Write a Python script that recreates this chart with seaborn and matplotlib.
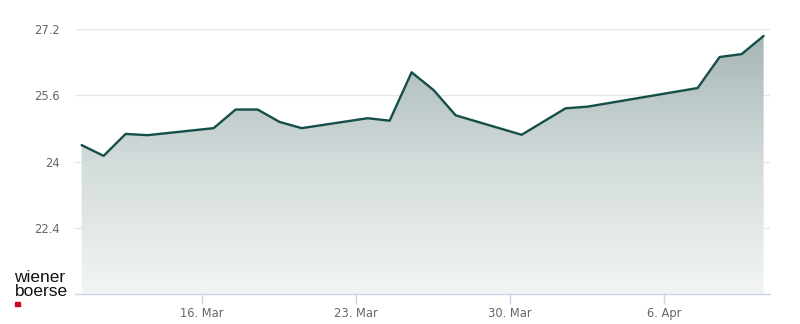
import numpy as np
import pandas as pd
import matplotlib
matplotlib.use("Agg")
import matplotlib.pyplot as plt
import matplotlib.dates as mdates
from matplotlib.colors import LinearSegmentedColormap
import seaborn as sns

# ---- data ----
dates = ["2026-03-10", "2026-03-11", "2026-03-12", "2026-03-13",
         "2026-03-16", "2026-03-17", "2026-03-18", "2026-03-19", "2026-03-20",
         "2026-03-23", "2026-03-24", "2026-03-25", "2026-03-26", "2026-03-27",
         "2026-03-30", "2026-03-31", "2026-04-01", "2026-04-02",
         "2026-04-07", "2026-04-08", "2026-04-09", "2026-04-10"]
prices = [24.40, 24.14, 24.67, 24.64,
          24.81, 25.26, 25.26, 24.96, 24.81,
          25.05, 24.99, 26.16, 25.73, 25.12,
          24.65, 24.97, 25.29, 25.33,
          25.78, 26.53, 26.60, 27.04]
y_ticks = [22.4, 24, 25.6, 27.2]
y_tick_labels = ["22.4", "24", "25.6", "27.2"]
x_tick_dates = ["2026-03-16", "2026-03-23", "2026-03-30", "2026-04-06"]
x_tick_labels = ["16. Mar", "23. Mar", "30. Mar", "6. Apr"]

df = pd.DataFrame({"date": pd.to_datetime(dates) + pd.Timedelta(hours=13),
                   "price": prices})

sns.set_theme(style="white")
plt.rcParams['font.family'] = ['DejaVu Sans']

fig = plt.figure(figsize=(8.0, 3.24), dpi=100)
ax = fig.add_axes([75/800, 1 - 294/324, (770-75)/800, (294-29.3)/324])

ymin, ymax = 20.8, 27.2
ref = pd.Timestamp("2026-03-16")
xl = mdates.date2num(ref - pd.Timedelta(days=(201.7-75)/22))
xr = mdates.date2num(ref + pd.Timedelta(days=(770-201.7)/22))

# gradient fill under the line
xnum = mdates.date2num(df["date"])
cmap = LinearSegmentedColormap.from_list(
    "g", [(0.0, "#f3f5f5"), (0.5, "#d3dbdb"), (1.0, "#a3b5b3")])
grad = np.linspace(0, 1, 256).reshape(-1, 1)
im = ax.imshow(grad, extent=[xl, xr, ymin, ymax], origin="lower",
               aspect="auto", cmap=cmap, zorder=1)
poly = ax.fill_between(xnum, df["price"].values, ymin, color="none", lw=0)
im.set_clip_path(poly.get_paths()[0], transform=ax.transData)

sns.lineplot(data=df, x="date", y="price", ax=ax, color="#154f4a",
             linewidth=1.7, zorder=3)

ax.set_xlim(xl, xr)
ax.set_ylim(ymin, ymax)

for yt in y_ticks:
    ax.axhline(yt, color="#e6e6e6", lw=1, zorder=0.5)

ax.set_yticks(y_ticks)
ax.set_yticklabels(y_tick_labels)
ax.set_xticks(mdates.date2num(pd.to_datetime(x_tick_dates)))
ax.set_xticklabels(x_tick_labels)
ax.set_xlabel("")
ax.set_ylabel("")

for s in ["top", "right", "left"]:
    ax.spines[s].set_visible(False)
ax.spines["bottom"].set_color("#ccd6eb")
ax.spines["bottom"].set_linewidth(1)
ax.spines["bottom"].set_zorder(4)

ax.tick_params(axis="y", length=0, pad=11, labelsize=8.3, labelcolor="#666666")
ax.tick_params(axis="x", length=7.2, width=1, color="#ccd6eb", direction="out",
               pad=2, labelsize=8.3, labelcolor="#666666", bottom=True)
ax.grid(False)

# logo
fig.text(14.5/800, 1 - 277/324, "wiener", family=["Liberation Sans", "DejaVu Sans"],
         fontsize=12.5, color="#111111", va="center", ha="left")
fig.text(14.5/800, 1 - 292/324, "boerse", family=["Liberation Sans", "DejaVu Sans"],
         fontsize=12.5, color="#111111", va="center", ha="left")
fig.patches.append(plt.Rectangle((15/800, 1 - 306/324), 4.5/800, 4.5/324,
                                 transform=fig.transFigure, color="#d0021b"))

fig.savefig("out.png", dpi=100, facecolor="white")
